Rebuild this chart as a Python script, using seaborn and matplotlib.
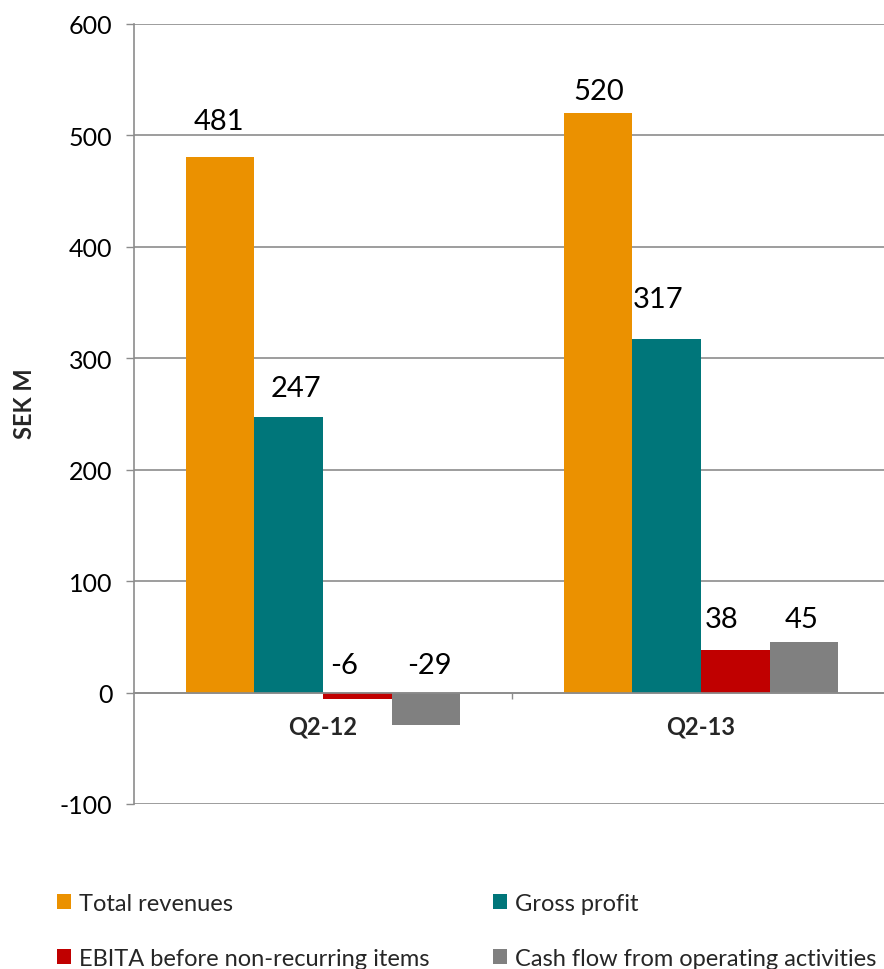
import matplotlib
matplotlib.use("Agg")
import matplotlib.pyplot as plt
import seaborn as sns
import pandas as pd
from matplotlib.patches import Patch
from matplotlib.ticker import FixedLocator

# Quarterly figures, SEK M
periods = ["Q2-12", "Q2-13"]
series = ["Total revenues", "Gross profit",
          "EBITA before non-recurring items", "Cash flow from operating activities"]
total_revenues = [481, 520]
gross_profit = [247, 317]
ebita = [-6, 38]
cash_flow = [-29, 45]
y_ticks = [-100, 0, 100, 200, 300, 400, 500, 600]

colors = ["#EB9100", "#00767A", "#C00000", "#808080"]
grid_color = "#8C8C8C"

rows = []
for name, vals in zip(series, [total_revenues, gross_profit, ebita, cash_flow]):
    for p, v in zip(periods, vals):
        rows.append({"Period": p, "Series": name, "Value": v})
df = pd.DataFrame(rows)

sns.set_theme(style="white")
plt.rcParams["font.family"] = ["Lato", "DejaVu Sans"]

fig = plt.figure(figsize=(8.84, 9.70), dpi=100)
ax = fig.add_axes([134 / 884, 1 - 805 / 970, 756 / 884, 780 / 970])

sns.barplot(data=df, x="Period", y="Value", hue="Series", order=periods,
            hue_order=series, palette=colors, width=0.725, saturation=1,
            linewidth=0, legend=False, ax=ax)

ax.set_ylim(-100, 600)
ax.set_xlim(-0.5, 1.5)
ax.set_yticks(y_ticks)
ax.set_yticklabels([str(t) for t in y_ticks], fontsize=18, color="#000000")
ax.yaxis.grid(True, color=grid_color, linewidth=1.2)
ax.set_axisbelow(True)
ax.tick_params(axis="y", direction="out", length=5.5, width=1, color=grid_color,
               pad=10, left=True)

# category axis sits on the zero line
for s in ["top", "right"]:
    ax.spines[s].set_visible(False)
ax.spines["left"].set_color(grid_color)
ax.spines["left"].set_linewidth(1.2)
ax.spines["bottom"].set_position(("data", 0))
ax.spines["bottom"].set_color(grid_color)
ax.spines["bottom"].set_linewidth(1.2)
ax.set_xticks([0, 1])
ax.set_xticklabels(periods, fontsize=17, fontweight="bold")
ax.tick_params(axis="x", which="major", length=0, pad=16)
ax.xaxis.set_minor_locator(FixedLocator([0.5]))
ax.tick_params(axis="x", which="minor", direction="out", length=4.5, width=1,
               color=grid_color, bottom=True)
ax.set_xlabel("")
ax.set_ylabel("SEK M", fontsize=17, fontweight="bold")
ax.yaxis.set_label_coords(-0.13, 0.515)

# value labels; negative values are written just above the zero line
label_shift = {  # (dx, dy) in pixels
    ("Total revenues", "Q2-12"): (-1, 36),
    ("Gross profit", "Q2-12"): (7, 29),
    ("EBITA before non-recurring items", "Q2-12"): (-13, 28),
    ("Cash flow from operating activities", "Q2-12"): (4, 28),
    ("Total revenues", "Q2-13"): (0, 22),
    ("Gross profit", "Q2-13"): (-9, 40),
    ("EBITA before non-recurring items", "Q2-13"): (-14, 31),
    ("Cash flow from operating activities", "Q2-13"): (-2, 23),
}
for container, name in zip(ax.containers, series):
    for bar, p in zip(container, periods):
        val = df[(df.Series == name) & (df.Period == p)].Value.iloc[0]
        x = bar.get_x() + bar.get_width() / 2
        y = max(val, 0)
        dx, dy = label_shift[(name, p)]
        ax.annotate(f"{val}", (x, y), xytext=(dx, dy), textcoords="offset pixels",
                    ha="center", va="center", fontsize=21, color="#000000")

handles = [Patch(facecolor=c, edgecolor="none") for c in colors]
order = [0, 2, 1, 3]
fig.legend([handles[i] for i in order], [series[i] for i in order],
           loc="center left", bbox_to_anchor=(57 / 884, 1 - 932 / 970),
           ncol=2, frameon=False, fontsize=17, handlelength=0.6,
           handleheight=0.6, handletextpad=0.35, columnspacing=2.65,
           labelspacing=1.45, borderpad=0, borderaxespad=0)

fig.savefig("out.png", dpi=100)
